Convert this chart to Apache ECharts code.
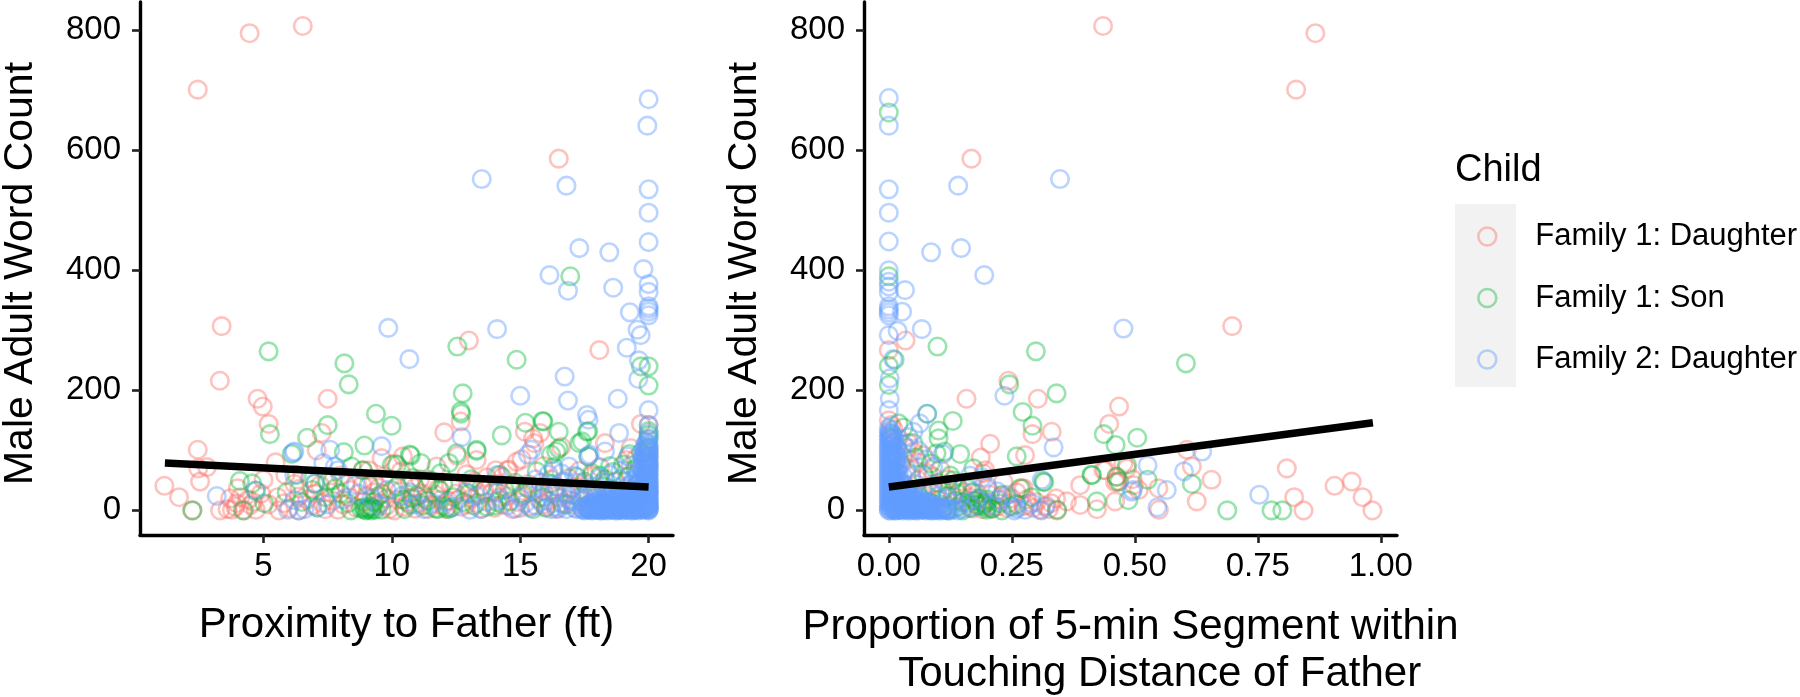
<!DOCTYPE html>
<html><head><meta charset="utf-8">
<style>html,body{margin:0;padding:0;background:#fff}#c{width:1800px;height:697px}</style>
<script src="https://cdn.jsdelivr.net/npm/echarts@6/dist/echarts.min.js"></script>
</head><body><div id="c"></div>
<script>
const seriesNames = ['Family 1: Daughter','Family 1: Son','Family 2: Daughter'];
const yTicks = [0,200,400,600,800];
const proxTicks = [5,10,15,20];
const touchTicks = [0,0.25,0.5,0.75,1];
const trendProx = [[1.16,79],[20,39]];
const trendTouch = [[0,39],[0.984,146]];

const proxRed = [[2.44,701],[4.46,795],[6.53,807],[16.5,586],[3.37,307],[3.3,216],[4.77,186],[4.97,173],[5.2,144],[13,283],[7.5,186],[12.68,148],[12.04,130],[7.27,129],[7.07,100],[2.44,101],[2.8,72],[2.46,70],[2.53,48],[1.14,41],[1.71,22],[2.23,0],[18.08,267],[19.7,144],[20,142],[13.3,84],[12.55,91],[10.43,90],[9.6,87],[10.1,78],[11.74,73],[5.47,80],[8.87,67],[15.18,131],[15.77,129],[15.5,120],[15.55,112],[16.6,106],[14.86,81],[14.55,68],[15.05,85],[14.5,67],[14.05,67],[18.3,112],[19.3,104],[19.14,84],[3.31,0],[3.7,20],[3.77,1],[3.96,12],[4,37],[4.25,0],[4.7,1],[5,51],[5.6,0],[5.85,59],[6.37,23],[6.37,0],[5.55,22],[7.3,12],[7.9,1],[8.85,42],[9.1,67],[9.55,12],[9.9,2],[10.1,0],[10.35,65],[9.8,20],[8.3,22],[8.6,5],[7.6,30],[6.9,8],[9.3,30],[10.6,14],[10.9,3],[11.2,28],[11.5,8],[11.9,18],[12.3,44],[12.7,6],[13.1,20],[13.5,3],[13.9,30],[14.3,10],[14.7,2],[15.1,24],[15.4,7],[15.8,38],[16.1,16],[16.4,2],[16.8,28],[17.1,9],[17.5,44],[17.9,20],[18.3,5],[18.6,34],[19,14],[19.3,60],[19.6,26],[19.9,80],[20,96],[16.2,52],[17.3,66],[18.1,72],[13.7,55],[12.9,60],[11.1,52],[9.3,48],[20,60],[20,30],[20,10],[19.8,4],[18.9,2],[17.7,3],[16.9,54],[15.9,74],[6.4,36],[4.4,18],[5.2,10],
[3.6,2],[3.9,6],[4.1,22],[4.5,9],[4.9,28],[6,4],[6.7,18],[7,28],[7.4,2],[7.7,16],[8.1,10],[8.4,34],[8.9,14],[9.2,6],[9.5,38],[9.8,8],[10.3,32],[10.5,6],[10.8,22],[11.1,12],[11.4,2],[11.7,26],[12,8],[12.2,16],[12.5,28],[12.9,10],[13.3,12],[13.6,34],[14,4],[14.2,22],[14.6,40],[14.9,14],[15.3,44],[15.7,20],[16,6],[16.3,34],[16.6,12],[17,38],[17.3,22],[17.6,8],[7.2,42],[8,58],[9.7,56],[10.7,46],[11.4,44],[13.2,48],[14.3,56],
[4.6,14],[5.8,12],[6.2,44],[6.8,54],[8.2,44],[9,24],[9.6,28],[10.2,18],[10.9,38],[11.3,20],[11.8,36],[12.1,2],[12.6,18],[13,38],[13.4,26],[14.1,44],[14.5,24],[15,4],[15.5,32],[15.9,10],[16.5,22],[17,16],[17.8,58],[18.7,48],[19.2,30],[19.5,86],[20,78],[20,46],[19.4,20],[18.4,28]];
const proxGreen = [[16.95,390],[5.2,265],[5.25,127],[12.55,273],[14.86,251],[8.15,245],[8.32,210],[12.76,195],[12.68,165],[12.7,161],[9.38,161],[9.99,141],[14.28,125],[7.5,142],[6.7,121],[8.93,108],[8.13,97],[6.1,94],[13.3,99],[12.52,95],[10.7,93],[10.74,91],[10,76],[11.13,79],[12.22,79],[8.43,73],[8.87,67],[15.2,146],[15.87,149],[16.5,131],[17.3,112],[17.6,131],[15.9,148],[16.5,103],[16.4,98],[16.2,93],[19.7,240],[20,240],[20,208],[2.23,0],[4.08,49],[4.2,0],[4.56,45],[4.7,33],[5.03,12],[6.3,59],[7,45],[7.1,5],[7.5,48],[7.8,37],[8.4,0],[9.1,2],[9.05,4],[9.2,0],[9.15,7],[8.95,1],[9.1,42],[9.6,1],[10.2,76],[10.77,20],[10.45,18],[11.87,34],[12.2,2],[12.13,5],[13,28],[13.3,101],[15.64,65],[15.3,37],[17.4,115],[17.65,90],[17.65,132],[19.25,94],[20,125],[20,118],[20,132],[19.9,84],[19.5,70],[18.6,64],[18.1,58],[17.5,48],[16.3,72],[15.1,28],[14.2,59],[14.6,15],[13.7,6],[12.8,14],[11.2,8],[10.2,40],[11.5,50],[16.8,10],[17.9,6],[18.8,20],[19.6,44],[5.9,30],[20,6],[19,8],[16,4],[15.5,2],[14,8],[11.9,62],[10.5,2],
[6.5,14],[6.9,34],[7.4,22],[7.7,50],[8,28],[8.3,12],[8.8,3],[9.3,14],[9.5,24],[10,34],[10.7,10],[11,24],[11.4,16],[11.7,3],[12.4,22],[13.2,8],[13.5,40],[14.1,14],[14.8,46],[15.9,22],[16.2,44],[17,26],[18.2,40],[18.5,74],[19.2,56],[20,90],[20,70],
[8.9,5],[9,0],[9.25,3],[9.35,1],[11.8,2],[12.3,4],[17.2,56],[17.8,62],[18.3,52],[19,76],[19.7,96],[20,104],[14.4,34],[13.1,52],[12,44],[10.8,54]];
const proxBlue = [[13.5,552],[16.8,541],[17.3,437],[16.14,392],[16.86,366],[20,685],[19.95,641],[20,535],[20,496],[20,447],[18.47,430],[19.8,402],[20,377],[20,364],[18.62,371],[20,340],[20,336],[20,331],[20,325],[19.27,330],[19.57,301],[19.69,292],[19.15,271],[19.62,250],[19.6,219],[16.73,223],[16.86,183],[18.8,186],[20,167],[17.6,159],[17.66,151],[20,142],[18.85,129],[9.86,304],[10.68,252],[14.1,302],[15,191],[12.72,122],[9.6,107],[7.6,101],[6.16,96],[15.44,101],[15.3,93],[17.7,93],[7.33,79],[7.78,73],[3.18,24],[4.7,33],[6.2,98],[6.2,17],[5.95,1],[6.37,0],[6.2,59],[7,45],[7.1,5],[7.9,67],[9.8,34],[11.25,2],[13.04,1],[13.45,2],[14.1,59],[16.3,67],[16.9,73],[17.65,90],[18.3,98],[19.2,90],[20,128],[20,120],[14.1,30],[13.7,14],[14.5,8],[15,22],[15.4,4],[15.8,14],[16.1,30],[16.4,6],[16.7,48],[16.9,18],[17.2,2],[17.3,34],[15.6,52],[16.1,60],[16.6,62],[17.1,58],[9.2,20],[8.6,42],[10.4,24],[10.9,10],[11.6,12],[12.4,6],[12.9,30],
[20,110],[20,107],[19.9,104],[20,101],[20,98],[19.85,95],[20,92],[20,89],[19.9,87],[20,84],[20,81],[19.8,79],[20,77],[20,74],[19.9,72],[20,69],[20,67],[19.8,64],[20,62],[20,59],[19.9,57],[20,54],[20,52],[19.8,50],[20,48],[20,45],[19.9,43],[20,41],[20,39],[19.8,37],[20,35],[20,33],[19.9,31],[20,29],[20,27],[19.7,25],[20,23],[20,21],[19.9,19],[20,17],[20,15],[19.7,13],[20,11],[20,9],[19.9,7],[20,5],[20,3],[20,1],[20,0],[19.6,60],[19.5,42],[19.6,28],[19.45,14],
[17.5,0],[17.65,1],[17.8,0],[17.95,2],[18.1,0],[18.25,1],[18.4,0],[18.55,2],[18.7,0],[18.85,1],[19,0],[19.15,2],[19.3,0],[19.45,1],[19.6,0],[19.75,2],
[17.6,5],[17.8,6],[18,4],[18.2,6],[18.4,5],[18.6,4],[18.8,6],[19,5],[19.2,4],[19.4,6],[19.6,5],[19.8,4],
[17.7,10],[17.95,9],[18.2,11],[18.45,10],[18.7,9],[18.95,11],[19.2,10],[19.45,9],[19.7,11],
[17.9,15],[18.2,14],[18.5,16],[18.8,15],[19.1,14],[19.4,16],[19.7,15],
[18,22],[18.4,20],[18.8,24],[19.2,21],[19.6,22],[18.6,34],[19.1,36],[19.5,38],[18.2,46],[18.9,52],[19.4,50],[17.8,30],[17.4,16]];
const proxBlueDense = [[17.4,3],[17.55,4],[17.7,2],[17.85,3],[18,1],[18.15,3],[18.3,2],[18.45,3],[18.6,1],[18.75,3],[18.9,2],[19.05,3],[19.2,1],[19.35,3],[19.5,2],[19.65,3],[19.85,1],
[17.7,8],[17.9,7],[18.1,8],[18.3,7],[18.5,8],[18.7,7],[18.9,8],[19.1,7],[19.3,8],[19.5,7],[19.7,8],[19.9,9],
[17.85,13],[18.05,12],[18.3,13],[18.55,12],[18.8,13],[19.05,12],[19.3,13],[19.55,12],[19.85,12],
[18.1,18],[18.35,18],[18.6,19],[18.9,18],[19.15,19],[19.45,18],[19.75,18],
[18.3,26],[18.6,27],[18.95,26],[19.3,27],[19.6,26],[19.85,25],[18.9,32],[19.25,31],[19.55,33],[19.85,34],[19.3,42],[19.6,46],[19.85,48],[19.55,54],[19.85,58],[19.7,70],[19.85,76],[19.75,88],[19.9,98],[19.85,108],[19.9,112],
[16.2,2],[16.5,3],[16.8,2],[17.1,4],[16.3,12],[16.7,10],[17.1,14],[17.5,24],[17,36],[15.2,12],[15.6,8],[15.9,32],[14.8,3],[14.2,18],[13.3,24],[12.1,14],[10.7,30],[9.5,8],[8.7,28],[8.1,18],[7.5,10],[6.6,2],[17.9,40],[18.1,54],[18.5,60],[18.9,66],[19.3,74],[17.3,46],[16.4,40],[15.8,46]];
const proxBlueCore = [[17.45,1],[17.6,2],[17.75,1],[17.9,1],[18.05,2],[18.2,0],[18.35,2],[18.5,1],[18.65,3],[18.8,0],[18.95,2],[19.1,1],[19.25,3],[19.4,0],[19.55,2],[19.7,1],[19.9,3],[20,2],
[17.55,6],[17.75,5],[17.95,6],[18.15,5],[18.35,6],[18.55,6],[18.75,5],[18.95,6],[19.15,6],[19.35,5],[19.55,6],[19.75,6],[19.95,5],
[17.8,11],[18.05,10],[18.3,10],[18.55,11],[18.8,10],[19.05,10],[19.3,11],[19.55,10],[19.8,10],[20,12],
[18,16],[18.25,17],[18.5,17],[18.75,17],[19,16],[19.25,17],[19.5,16],[19.8,17],[20,19],
[18.45,23],[18.75,22],[19.05,23],[19.35,23],[19.65,24],[19.95,23],[19.2,29],[19.5,30],[19.8,30],[20,31],[19.45,36],[19.75,39],[20,37],[19.6,44],[19.95,44],[19.7,51],[19.95,51],[19.7,56],[19.95,60],[19.75,66],[19.95,66],[19.8,72],[19.95,80],[19.8,85],[19.95,90],[19.8,92],[19.95,102],[19.8,100],[19.95,114]];

const touchRed = [[0.4355,807],[0.867,795],[0.828,701],[0.168,586],[0.698,307],[0.034,283],[0,267],[0.243,216],[0.303,186],[0.158,186],[0.468,173],[0.448,144],[0.292,127],[0.331,131],[0.606,101],[0.206,111],[0.187,88],[0.277,92],[0.196,67],[0.436,67],[0.463,56],[0.46,47],[0.484,70],[0.616,73],[0.656,51],[0.548,37],[0.496,52],[0.389,42],[0.27,37],[0.192,62],[0.233,48],[0.274,37],[0.362,15],[0.389,9],[0.44,67],[0.464,48],[0.477,78],[0.626,15],[0.549,1],[0.498,42],[0.843,0],[0.824,22],[0.809,70],[0.906,41],[0.941,48],[0.963,22],[0.983,0],[0.508,34],[0.46,15],[0.423,2],[0.342,0],[0.294,4],[0.308,1],[0.243,12],[0.274,7],[0.17,3],[0.005,142],[0.01,135],[0,150],[0.02,120],[0.035,104],[0.05,98],[0.03,88],[0.06,80],[0.045,68],[0.08,62],[0.06,50],[0.09,44],[0.11,32],[0.13,24],[0.15,20],[0.18,28],[0.2,14],[0.22,6],[0.25,20],[0.21,3],[0.16,12],[0.12,8],[0.1,18],[0.07,26],[0.14,40],[0.17,44],[0.2,36],[0.23,24],[0.32,8],[0.34,20],[0.28,18],[0.025,76],[0.04,112],
[0.15,30],[0.165,22],[0.18,10],[0.19,2],[0.205,26],[0.225,18],[0.24,4],[0.26,30],[0.285,8],[0.3,14],[0.325,2],[0.33,12],[0.12,52],[0.09,56],[0.105,68],[0.07,92]];
const touchGreen = [[0,663],[0,390],[0.012,251],[0,241],[0,209],[0.099,273],[0.299,265],[0.604,245],[0.245,210],[0.341,195],[0.272,164],[0.292,141],[0.437,127],[0.461,109],[0.505,121],[0.13,149],[0.078,161],[0.101,133],[0.101,120],[0.097,95],[0.113,98],[0.145,94],[0.26,90],[0.172,70],[0.412,59],[0.463,56],[0.484,76],[0.616,44],[0.526,51],[0.314,48],[0.267,37],[0.316,47],[0.342,1],[0.423,15],[0.413,59],[0.487,17],[0.192,12],[0.199,1],[0.23,0],[0.248,7],[0.688,0],[0.778,0],[0.8,0],[0.468,48],[0.02,145],[0.03,138],[0.005,120],[0.05,112],[0.07,60],[0.09,40],[0.12,24],[0.15,14],[0.18,8],[0.2,18],[0.184,20],[0.19,7],[0.17,30],[0.14,6],[0.11,4],[0.1,46],[0.13,50],[0.16,36],[0.21,3],[0.26,10],[0.29,22],[0.08,14],[0.06,24],[0.04,30],[0.15,0],[0.12,0],[0.23,26],[0.195,10],[0.188,14],[0.2,5],[0.165,4],
[0.085,78],[0.125,58],[0.055,88],[0.14,28],[0.225,12],[0.175,16],[0.105,10],[0.135,16]];
const touchBlue = [[0,687],[0,641],[0.348,552],[0.141,541],[0,535],[0,496],[0,448],[0.147,437],[0.086,430],[0.194,392],[0,400],[0,381],[0,373],[0,363],[0.033,367],[0.027,331],[0,340],[0,335],[0,330],[0,325],[0.067,302],[0.477,303],[0.018,299],[0,292],[0.009,252],[0.002,220],[0.002,186],[0,167],[0.235,191],[0.078,161],[0.063,145],[0.05,131],[0.335,105],[0.637,98],[0.11,94],[0.526,75],[0.6,65],[0.565,34],[0.546,5],[0.496,34],[0.753,26],[0.311,51],[0.494,31],[0.223,17],[0.252,6],[0.255,0],[0.277,1],[0.318,6],[0.19,55],[0.165,58],[0.2,40],[0.22,32],[0.12,42],[0.09,72],[0.075,85],[0.06,100],[0.04,122],[0.03,110],
[0,130],[0.003,127],[0,124],[0.005,121],[0,118],[0.002,115],[0,112],[0.006,110],[0,107],[0.003,104],[0,102],[0.006,99],[0,97],[0.003,94],[0,92],[0.006,89],[0,87],[0.003,84],[0,82],[0.006,79],[0,77],[0.003,74],[0,72],[0.006,69],[0,67],[0.003,64],[0,62],[0.006,59],[0,57],[0.003,54],[0,52],[0.006,49],[0,47],[0.003,44],[0,42],[0.006,39],[0,37],[0.003,34],[0,32],[0.006,29],[0,27],[0.003,24],[0,22],[0.006,19],[0,17],[0.003,14],[0,12],[0.006,9],[0,7],[0.003,4],[0,2],[0,0],
[0.012,0],[0.02,1],[0.028,0],[0.036,2],[0.044,0],[0.052,1],[0.06,0],[0.068,2],[0.076,0],[0.084,1],[0.092,0],[0.1,2],[0.108,0],[0.116,1],[0.124,0],[0.132,2],[0.14,0],
[0.012,5],[0.022,6],[0.032,4],[0.042,6],[0.052,5],[0.062,4],[0.072,6],[0.082,5],[0.092,4],[0.102,6],[0.112,5],
[0.012,11],[0.024,10],[0.036,12],[0.048,11],[0.06,10],[0.072,12],[0.084,10],
[0.014,17],[0.028,16],[0.042,18],[0.056,17],[0.07,16],
[0.014,24],[0.03,23],[0.046,25],[0.014,33],[0.03,32],[0.016,42],[0.03,44],[0.014,52],[0.028,58],[0.014,64],[0.02,74],[0.015,88],[0.02,100]];
const touchBlueDense = [[0.008,2],[0.016,3],[0.024,2],[0.032,3],[0.04,2],[0.048,3],[0.056,2],[0.064,3],[0.072,2],[0.08,3],[0.088,2],[0.096,3],[0.104,2],[0.112,3],[0.12,2],[0.128,3],
[0.008,8],[0.018,8],[0.028,8],[0.038,8],[0.048,8],[0.058,8],[0.068,8],[0.078,8],[0.088,8],[0.098,8],
[0.008,14],[0.02,14],[0.032,14],[0.044,14],[0.056,14],[0.068,14],[0.08,13],
[0.008,20],[0.02,20],[0.034,20],[0.048,20],[0.062,20],
[0.009,27],[0.022,28],[0.036,28],[0.05,28],[0.009,35],[0.024,36],[0.038,37],[0.009,44],[0.022,46],[0.009,50],[0.022,52],[0.009,57],[0.02,62],[0.009,66],[0.018,70],[0.009,76],[0.016,82],[0.009,86],[0.017,92],[0.01,96],[0.016,106],[0.01,112],[0.012,120],[0.008,126],
[0.15,3],[0.17,6],[0.16,14],[0.18,18],[0.135,12],[0.12,20],[0.1,24],[0.085,30],[0.07,36],[0.055,44],[0.045,58],[0.035,70],[0.21,8],[0.24,26],[0.26,3],[0.29,12],[0.31,0]];
const touchBlueCore = [[0.004,0],[0.01,1],[0.016,0],[0.022,1],[0.03,2],[0.038,0],[0.046,2],[0.054,0],[0.062,2],[0.07,1],[0.078,2],[0.086,0],[0.094,1],[0.102,0],[0.11,2],[0.118,1],
[0.006,5],[0.014,6],[0.024,5],[0.034,6],[0.044,5],[0.054,6],[0.064,5],[0.074,5],[0.084,6],[0.094,5],
[0.006,11],[0.016,11],[0.026,12],[0.038,10],[0.05,12],[0.062,11],[0.074,10],
[0.006,17],[0.016,17],[0.026,18],[0.038,17],[0.05,18],[0.06,18],
[0.006,24],[0.018,25],[0.03,26],[0.04,24],[0.006,31],[0.018,32],[0.028,34],[0.006,38],[0.018,40],[0.006,45],[0.016,48],[0.006,53],[0.016,56],[0.006,61],[0.015,66],[0.006,71],[0.014,78],[0.006,81],[0.014,86],[0.006,91],[0.013,96],[0.006,101],[0.013,104],[0.006,108],[0.012,114],[0.006,116],[0.004,119],[0.002,123],[0.004,129],[0.002,134],[0,137]];

function rings(name, data, i, color){
  return {name, type:'scatter', xAxisIndex:i, yAxisIndex:i, data, symbol:'circle', symbolSize:17.5,
    itemStyle:{color:'transparent', borderColor:color, borderWidth:2.6}, silent:true, animation:false, z:2};
}
function trend(data,i){
  return {type:'line', xAxisIndex:i, yAxisIndex:i, data, symbol:'none', silent:true, animation:false, z:5,
    lineStyle:{color:'#000', width:7.5, cap:'butt'}};
}
const ringColors = ['rgba(248,118,109,0.55)','rgba(0,186,56,0.5)','rgba(97,156,255,0.55)'];
const F = 'Liberation Sans';
function xAx(gridIndex,min,max,ticks,name,gap,fmt){
  return {type:'value', gridIndex, min, max, name, nameLocation:'middle', nameGap:gap,
    nameTextStyle:{fontFamily:F,fontSize:42,color:'#000',lineHeight:47},
    axisLine:{show:true,onZero:false,lineStyle:{color:'#000',width:3.4}},
    axisTick:{show:true,length:8,customValues:ticks,lineStyle:{color:'#222',width:2.6}},
    axisLabel:{fontFamily:F,fontSize:33,color:'#000',margin:15,customValues:ticks,formatter:fmt},
    splitLine:{show:false}};
}
function yAx(gridIndex){
  return {type:'value', gridIndex, min:-41, max:847, name:'Male Adult Word Count', nameLocation:'middle', nameGap:99,
    nameTextStyle:{fontFamily:F,fontSize:41,color:'#000',padding:[0,10,0,0]},
    axisLine:{show:true,onZero:false,lineStyle:{color:'#000',width:3.4}},
    axisTick:{show:true,length:8,customValues:yTicks,lineStyle:{color:'#222',width:2.6}},
    axisLabel:{fontFamily:F,fontSize:33,color:'#000',margin:19,customValues:yTicks},
    splitLine:{show:false}};
}
const chart = echarts.init(document.getElementById('c'),null,{renderer:'canvas'});
chart.setOption({
  animation:false, backgroundColor:'#fff',
  title:{text:'Child', left:1450, top:147, textStyle:{fontFamily:F,fontSize:38,fontWeight:'normal',color:'#000'}},
  grid:[{left:140,top:2,width:533,height:533,outerBoundsMode:'none'},{left:864,top:2,width:533,height:533,outerBoundsMode:'none'}],
  xAxis:[
    xAx(0,0.19,20.95,proxTicks,'Proximity to Father (ft)',67,v=>String(v)),
    xAx(1,-0.0504,1.033,touchTicks,'Proportion of 5-min Segment within\n     Touching Distance of Father',69,v=>v.toFixed(2))
  ],
  yAxis:[yAx(0),yAx(1)],
  legend:{orient:'vertical', left:1472, top:216, itemWidth:18, itemHeight:18, itemGap:30.5, selectedMode:false,
    textStyle:{fontFamily:F,fontSize:31,color:'#000',lineHeight:30,padding:[0,0,0,34]},
    data:seriesNames.map((n,i)=>({name:n,icon:'circle',itemStyle:{color:'transparent',borderColor:ringColors[i],borderWidth:2.6}}))},
  graphic:[{type:'rect',silent:true,z:-1,shape:{x:1455,y:204,width:61,height:183},style:{fill:'#f2f2f2'}}],
  series:[
    rings(seriesNames[0],proxRed,0,ringColors[0]),
    rings(seriesNames[1],proxGreen,0,ringColors[1]),
    rings(seriesNames[2],proxBlue,0,ringColors[2]),
    rings(seriesNames[2],proxBlueDense,0,ringColors[2]),
    rings(seriesNames[2],proxBlueCore,0,ringColors[2]),
    rings(seriesNames[0],touchRed,1,ringColors[0]),
    rings(seriesNames[1],touchGreen,1,ringColors[1]),
    rings(seriesNames[2],touchBlue,1,ringColors[2]),
    rings(seriesNames[2],touchBlueDense,1,ringColors[2]),
    rings(seriesNames[2],touchBlueCore,1,ringColors[2]),
    trend(trendProx,0),
    trend(trendTouch,1)
  ]
});
</script></body></html>
